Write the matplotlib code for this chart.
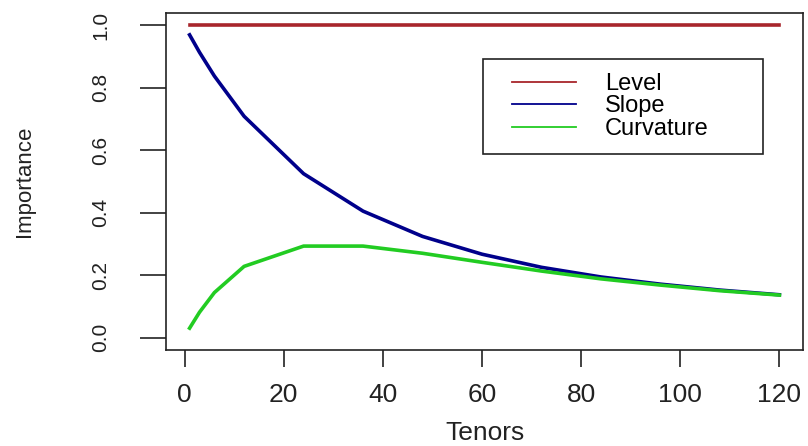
import numpy as np
import matplotlib.pyplot as plt
from matplotlib.lines import Line2D
from matplotlib.legend_handler import HandlerLine2D
from matplotlib.ticker import FixedLocator, FormatStrFormatter

# 読み取った値 (Tenors vs factor loadings)
tenors = [1, 3, 6, 12, 24, 36, 48, 60, 72, 84, 96, 108, 120]
level = [1.0] * len(tenors)
slope = [0.970, 0.914, 0.838, 0.709, 0.525, 0.405, 0.324, 0.267,
         0.225, 0.194, 0.171, 0.152, 0.137]
curvature = [0.030, 0.081, 0.144, 0.228, 0.293, 0.293, 0.270, 0.241,
             0.213, 0.188, 0.168, 0.150, 0.136]

series_names = ['Level', 'Slope', 'Curvature']
series_colors = ['#a8252b', '#00008b', '#22cc22']

x_ticks = [0, 20, 40, 60, 80, 100, 120]
y_ticks = [0.0, 0.2, 0.4, 0.6, 0.8, 1.0]


def main():
    plt.rcParams['font.family'] = ['Liberation Sans', 'DejaVu Sans']

    fig = plt.figure(figsize=(8.08, 4.46), dpi=100)
    ax = fig.add_axes([166 / 808, 96 / 446, 637 / 808, 337 / 446])

    lines = []
    for vals, name, col in zip([level, slope, curvature],
                               series_names, series_colors):
        ln, = ax.plot(tenors, vals, color=col, lw=2.6, label=name)
        lines.append(ln)

    # R風の余白 (4%)
    xr = max(tenors) - min(tenors)
    ax.set_xlim(min(tenors) - 0.04 * xr, max(tenors) + 0.04 * xr)
    ax.set_ylim(-0.04, 1.04)

    ax.xaxis.set_major_locator(FixedLocator(x_ticks))
    ax.yaxis.set_major_locator(FixedLocator(y_ticks))
    ax.yaxis.set_major_formatter(FormatStrFormatter('%.1f'))

    ax.tick_params(axis='x', length=12, width=1.2, pad=12, labelsize=19,
                   colors='#222222')
    ax.tick_params(axis='y', length=19, width=1.2, pad=28, labelsize=15,
                   colors='#222222')
    for lab in ax.get_yticklabels():
        lab.set_rotation(90)
        lab.set_va('center')
        lab.set_ha('center')
    for sp in ax.spines.values():
        sp.set_linewidth(1.2)
        sp.set_color('#222222')

    ax.set_xlabel('Tenors', fontsize=19, color='#222222')
    ax.set_ylabel('Importance', fontsize=16, color='#222222')
    ax.xaxis.set_label_coords(0.5, -0.212)
    ax.yaxis.set_label_coords(-0.205, 0.5)

    # 凡例
    x0 = (483 - 166) / 637
    y0 = (446 - 154 - 96) / 337
    w = (763 - 483) / 637
    h = (154 - 57) / 337
    leg = ax.legend(handles=lines, loc='lower left',
                    bbox_to_anchor=(x0, y0, w, h), mode='expand',
                    borderaxespad=0, fontsize=17, fancybox=False,
                    edgecolor='#222222', framealpha=1, borderpad=0.6,
                    labelspacing=0.02, handlelength=3.34, handletextpad=1.23,
                    handler_map={Line2D: HandlerLine2D(xpad=0.63)})
    leg.get_frame().set_linewidth(1.2)
    for hl in leg.get_lines():
        hl.set_linewidth(1.3)

    fig.savefig('out.png', dpi=100)


if __name__ == '__main__':
    main()
